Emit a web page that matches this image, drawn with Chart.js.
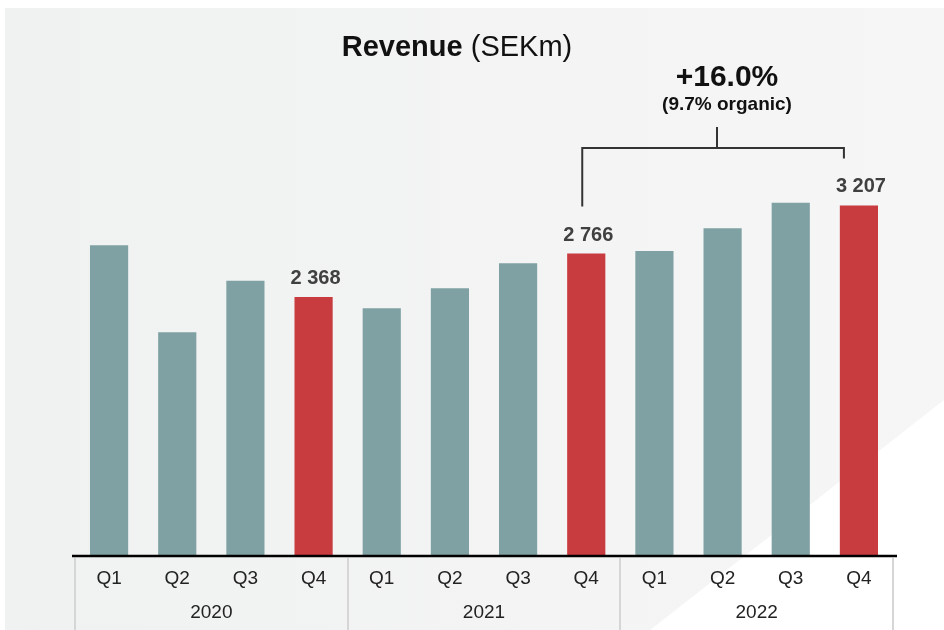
<!DOCTYPE html>
<html>
<head>
<meta charset="utf-8">
<script src="https://cdn.jsdelivr.net/npm/chart.js@4/dist/chart.umd.min.js"></script>
<style>
  html, body { margin: 0; padding: 0; background: #ffffff; }
  #wrap { width: 944px; height: 630px; position: relative; }
</style>
</head>
<body>
<div id="wrap"><canvas id="myChart" width="944" height="630"></canvas></div>
<script>
const trimestres = ["Q1", "Q2", "Q3", "Q4", "Q1", "Q2", "Q3", "Q4", "Q1", "Q2", "Q3", "Q4"];
const anios = ["2020", "2021", "2022"];
const ingresos = [2841, 2043, 2517, 2368, 2263, 2447, 2676, 2766, 2789, 2997, 3232, 3207];
const etiquetados = [3, 7, 11];
const crecimiento = "+16.0%";
const organico = "(9.7% organic)";

const COLOR_BARRA = "#7fa1a3";
const COLOR_DESTACADO = "#c83b3f";
const FUENTE = "'Liberation Sans', Arial, sans-serif";

const coloresBarras = ingresos.map((v, i) =>
  etiquetados.includes(i) ? COLOR_DESTACADO : COLOR_BARRA
);

function formatoMiles(valor) {
  return valor.toString().replace(/\B(?=(\d{3})+(?!\d))/g, " ");
}

const fondo = {
  id: "fondo",
  beforeDraw(chart) {
    const ctx = chart.ctx;
    ctx.save();
    const grad = ctx.createLinearGradient(0, 0, 944, 0);
    grad.addColorStop(0, "#f0f1f1");
    grad.addColorStop(1, "#f6f6f6");
    ctx.fillStyle = grad;
    ctx.fillRect(5, 8, 939, 622);
    ctx.fillStyle = "#ffffff";
    ctx.beginPath();
    ctx.moveTo(650, 630);
    ctx.lineTo(944, 630);
    ctx.lineTo(944, 400);
    ctx.closePath();
    ctx.fill();
    ctx.restore();
  },
};

const anotaciones = {
  id: "anotaciones",
  afterDraw(chart) {
    const ctx = chart.ctx;
    const x = chart.scales.x;
    const area = chart.chartArea;
    const meta = chart.getDatasetMeta(0);
    ctx.save();

    // titulo
    ctx.textBaseline = "alphabetic";
    ctx.fillStyle = "#111111";
    ctx.font = `bold 29px ${FUENTE}`;
    const t1 = "Revenue";
    const t2 = " (SEKm)";
    const w1 = ctx.measureText(t1).width;
    ctx.font = `29px ${FUENTE}`;
    const w2 = ctx.measureText(t2).width;
    const inicio = 457 - (w1 + w2) / 2;
    ctx.font = `bold 29px ${FUENTE}`;
    ctx.textAlign = "left";
    ctx.fillText(t1, inicio, 56);
    ctx.font = `29px ${FUENTE}`;
    ctx.fillText(t2, inicio + w1, 56);

    // etiquetas de valor
    ctx.textAlign = "center";
    ctx.fillStyle = "#404040";
    ctx.font = `bold 20px ${FUENTE}`;
    etiquetados.forEach((i) => {
      const barra = meta.data[i];
      ctx.fillText(formatoMiles(ingresos[i]), barra.x + 2, barra.y - 13);
    });

    // linea base
    ctx.strokeStyle = "#000000";
    ctx.lineWidth = 2.5;
    ctx.beginPath();
    ctx.moveTo(area.left - 3, area.bottom + 1);
    ctx.lineTo(area.right + 4, area.bottom + 1);
    ctx.stroke();

    // separadores de anios
    const paso = x.getPixelForValue(1) - x.getPixelForValue(0);
    ctx.strokeStyle = "#d6d6d6";
    ctx.lineWidth = 2;
    [0, 4, 8, 12].forEach((k) => {
      const px = Math.round(x.getPixelForValue(0) + (k - 0.5) * paso);
      ctx.beginPath();
      ctx.moveTo(px, area.bottom + 3);
      ctx.lineTo(px, 630);
      ctx.stroke();
    });

    ctx.fillStyle = "#222222";
    ctx.font = `19px ${FUENTE}`;
    ctx.textBaseline = "middle";
    anios.forEach((anio, g) => {
      const cx = (x.getPixelForValue(g * 4) + x.getPixelForValue(g * 4 + 3)) / 2;
      ctx.fillText(anio, cx, 613);
    });

    // corchete de crecimiento
    const izq = meta.data[7].x - 4;
    const der = meta.data[11].x - 15;
    const yLinea = 148;
    ctx.strokeStyle = "#333333";
    ctx.lineWidth = 2;
    ctx.beginPath();
    ctx.moveTo(izq, meta.data[7].y - 47);
    ctx.lineTo(izq, yLinea);
    ctx.lineTo(der, yLinea);
    ctx.lineTo(der, meta.data[11].y - 47);
    ctx.moveTo(717, yLinea);
    ctx.lineTo(717, 127);
    ctx.stroke();

    ctx.textBaseline = "alphabetic";
    ctx.fillStyle = "#111111";
    ctx.font = `bold 30px ${FUENTE}`;
    ctx.fillText(crecimiento, 727, 86);
    ctx.font = `bold 19px ${FUENTE}`;
    ctx.fillText(organico, 727, 110);

    ctx.restore();
  },
};

const config = {
  type: "bar",
  data: {
    labels: trimestres,
    datasets: [
      {
        data: ingresos,
        backgroundColor: coloresBarras,
        borderWidth: 0,
        barPercentage: 0.56,
        categoryPercentage: 1,
      },
    ],
  },
  options: {
    responsive: false,
    animation: false,
    layout: {
      padding: { top: 119, right: 51, bottom: 0, left: 75 },
    },
    plugins: {
      legend: { display: false },
      tooltip: { enabled: false },
      title: { display: false },
    },
    scales: {
      x: {
        grid: { display: false, drawTicks: false },
        border: { display: false },
        ticks: {
          color: "#222222",
          padding: 12,
          font: { family: FUENTE, size: 19 },
        },
        afterFit: (axis) => {
          axis.height = 75;
        },
      },
      y: {
        display: false,
        min: 0,
        max: 4000,
      },
    },
  },
  plugins: [fondo, anotaciones],
};

const chartDOM = document.getElementById("myChart");
const myChart = new Chart(chartDOM, config);
</script>
</body>
</html>
